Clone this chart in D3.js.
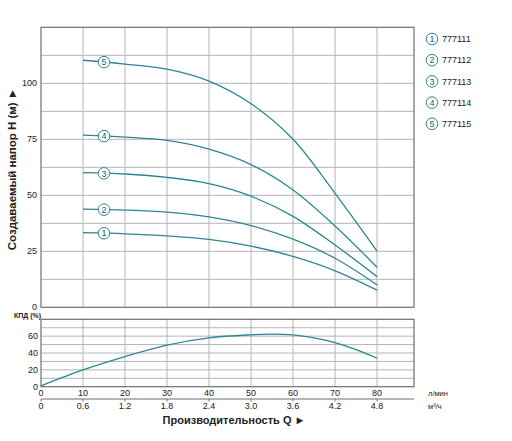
<!DOCTYPE html>
<html lang="ru">
<head>
<meta charset="UTF-8">
<title>Напорные характеристики</title>
<style>
  body { margin: 0; background: #fff; }
  svg { display: block; }
  text { font-family: "Liberation Sans Narrow", "Liberation Sans", Arial, sans-serif; fill: #222; }
</style>
</head>
<body>
<svg width="512" height="441"></svg>
<script src="https://d3js.org/d3.v7.min.js"></script>
<script>
  // flow, l/min
  const flowPoints = [10, 20, 30, 40, 50, 60, 70, 80];
  const models = ["777111", "777112", "777113", "777114", "777115"];
  const head1 = [33.3, 32.8, 31.9, 30.3, 27.3, 22.7, 16.3, 7.7];
  const head2 = [43.8, 43.4, 42.5, 40.4, 36.5, 30.4, 21.9, 10.0];
  const head3 = [60.1, 59.5, 58.0, 55.2, 49.6, 40.6, 27.8, 13.7];
  const head4 = [76.9, 76.0, 74.5, 70.6, 63.7, 52.4, 36.3, 17.9];
  const head5 = [110.3, 108.6, 106.3, 101.0, 90.9, 75.0, 50.9, 25.1];
  const heads = [head1, head2, head3, head4, head5];

  const effFlow = [0, 10, 20, 30, 40, 50, 55, 60, 65, 70, 75, 80];
  const effValues = [1, 19.9, 35.7, 49.3, 58.0, 61.6, 62.4, 61.6, 58.0, 52.4, 43.9, 33.8];

  const flowTicks = [0, 10, 20, 30, 40, 50, 60, 70, 80];
  const m3hLabels = ["0", "0.6", "1.2", "1.8", "2.4", "3.0", "3.6", "4.2", "4.8"];
  const headTicks = [0, 25, 50, 75, 100];
  const effTicks = [0, 20, 40, 60];

  const teal = "#2d8791";
  const gridCol = "#b4b4b4";
  const frameCol = "#6e6e6e";

  const svg = d3.select("svg");

  const x = d3.scaleLinear().domain([0, 88.8]).range([41, 414]);
  const yH = d3.scaleLinear().domain([0, 125]).range([307.3, 27.3]);
  const yE = d3.scaleLinear().domain([0, 80]).range([386.7, 319.3]);

  function panel(y, hStep, hMax) {
    const g = svg.append("g");
    g.selectAll("line.h")
      .data(d3.range(hStep, hMax, hStep))
      .enter().append("line")
      .attr("x1", x(0)).attr("x2", x.range()[1])
      .attr("y1", d => y(d)).attr("y2", d => y(d))
      .attr("stroke", gridCol).attr("stroke-width", 1);
    g.selectAll("line.v")
      .data(flowTicks.slice(1))
      .enter().append("line")
      .attr("x1", d => x(d)).attr("x2", d => x(d))
      .attr("y1", y.range()[0]).attr("y2", y.range()[1])
      .attr("stroke", gridCol).attr("stroke-width", 1);
    g.append("rect")
      .attr("x", x(0)).attr("y", y.range()[1])
      .attr("width", x.range()[1] - x(0))
      .attr("height", y.range()[0] - y.range()[1])
      .attr("fill", "none").attr("stroke", frameCol).attr("stroke-width", 1.2);
  }

  panel(yH, 12.5, 125);
  panel(yE, 10, 80);

  // y tick labels
  svg.selectAll("text.th")
    .data(headTicks).enter().append("text")
    .attr("x", 37).attr("y", d => yH(d) + 3)
    .attr("text-anchor", "end").attr("font-size", 9)
    .text(d => d);
  svg.selectAll("text.te")
    .data(effTicks).enter().append("text")
    .attr("x", 38).attr("y", d => yE(d) + 3)
    .attr("text-anchor", "end").attr("font-size", 9)
    .text(d => d);

  // x labels, l/min
  svg.selectAll("text.tx")
    .data(flowTicks).enter().append("text")
    .attr("x", d => x(d)).attr("y", 395.5)
    .attr("text-anchor", "middle").attr("font-size", 9)
    .text(d => d);

  // second axis m3/h
  svg.append("line")
    .attr("x1", x(0)).attr("x2", x.range()[1])
    .attr("y1", 399).attr("y2", 399)
    .attr("stroke", frameCol).attr("stroke-width", 1.2);
  svg.selectAll("line.tk")
    .data(flowTicks).enter().append("line")
    .attr("x1", d => x(d)).attr("x2", d => x(d))
    .attr("y1", 399).attr("y2", 401.5)
    .attr("stroke", frameCol);
  svg.selectAll("text.tm")
    .data(flowTicks).enter().append("text")
    .attr("x", d => x(d)).attr("y", 409)
    .attr("text-anchor", "middle").attr("font-size", 9)
    .text((d, i) => m3hLabels[i]);

  svg.append("text").attr("x", 428).attr("y", 395.5)
    .attr("font-size", 7.5).text("л/мин");
  svg.append("text").attr("x", 428).attr("y", 409)
    .attr("font-size", 7.5).text("м³/ч");

  svg.append("text").attr("x", 234).attr("y", 424)
    .attr("text-anchor", "middle").attr("font-size", 11)
    .attr("font-weight", "bold")
    .style("font-family", "'Liberation Sans', Arial, sans-serif")
    .text("Производительность Q ►");

  svg.append("text")
    .attr("transform", "translate(16,169) rotate(-90)")
    .attr("text-anchor", "middle").attr("font-size", 11.5)
    .attr("font-weight", "bold")
    .style("font-family", "'Liberation Sans', Arial, sans-serif")
    .text("Создаваемый напор H (м) ►");

  svg.append("text").attr("x", 14).attr("y", 318)
    .attr("font-size", 7).attr("font-weight", "bold").text("КПД (%)");

  // head curves
  const smooth = d3.curveCatmullRom.alpha(0.5);
  const line = d3.line()
    .x((d, i) => x(flowPoints[i]))
    .curve(smooth);
  heads.forEach(h => {
    svg.append("path")
      .attr("d", line.y(d => yH(d))(h))
      .attr("fill", "none").attr("stroke", teal).attr("stroke-width", 1.3);
  });

  // curve markers
  const lbl = svg.selectAll("g.lbl")
    .data(heads).enter().append("g")
    .attr("transform", d => `translate(${x(15)},${yH((d[0] + d[1]) / 2)})`);
  lbl.append("circle").attr("r", 5.8)
    .attr("fill", "#fff").attr("stroke", teal).attr("stroke-width", 1);
  lbl.append("text").attr("text-anchor", "middle").attr("y", 3.2)
    .attr("font-size", 9).style("fill", "#2a5e66")
    .text((d, i) => i + 1);

  // efficiency curve
  svg.append("path")
    .datum(effValues)
    .attr("d", d3.line()
      .x((d, i) => x(effFlow[i]))
      .y(d => yE(d))
      .curve(smooth))
    .attr("fill", "none").attr("stroke", teal).attr("stroke-width", 1.3);

  // legend
  const leg = svg.selectAll("g.leg")
    .data(models).enter().append("g")
    .attr("transform", (d, i) => `translate(432,${39 + i * 21.2})`);
  leg.append("circle").attr("r", 5.8)
    .attr("fill", "#fff").attr("stroke", teal).attr("stroke-width", 1);
  leg.append("text").attr("text-anchor", "middle").attr("y", 3.2)
    .attr("font-size", 9).style("fill", "#2a5e66")
    .text((d, i) => i + 1);
  leg.append("text").attr("x", 10).attr("y", 3.2)
    .attr("font-size", 9).text(d => d);
</script>
</body>
</html>
